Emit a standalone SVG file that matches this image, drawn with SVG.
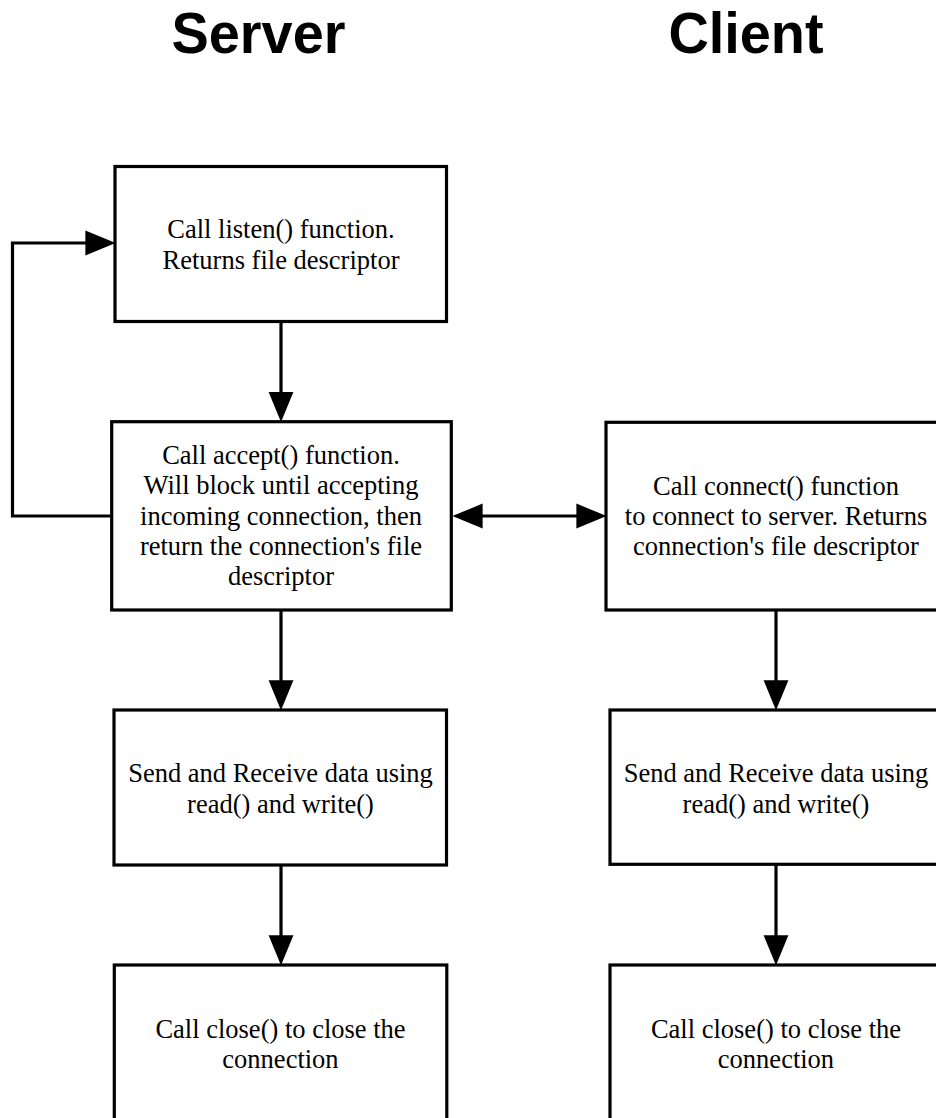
<svg xmlns="http://www.w3.org/2000/svg" width="936" height="1118" viewBox="0 0 936 1118">
  <style>
    .box { fill: #ffffff; stroke: #000000; stroke-width: 3.2; }
    .label { font-family: "Liberation Serif", "Times New Roman", serif; font-size: 26.5px; fill: #000000; text-anchor: middle; }
    .title { font-family: "Liberation Sans", Arial, sans-serif; font-size: 57px; font-weight: bold; fill: #000000; text-anchor: middle; }
    .conn { fill: none; stroke: #000000; stroke-width: 3.2; }
  </style>
  <defs>
    <marker id="arrow" markerUnits="userSpaceOnUse" markerWidth="30" markerHeight="26" viewBox="0 0 29 24" refX="19" refY="12" orient="auto-start-reverse">
      <path d="M0,0 L29,12 L0,24 Z" fill="#000000"/>
    </marker>
  </defs>

  <rect x="0" y="0" width="936" height="1118" fill="#ffffff"/>

  <!-- column headings -->
  <text class="title" transform="translate(258.5,53) scale(0.98,1)">Server</text>
  <text class="title" transform="translate(746,53) scale(0.98,1)">Client</text>

  <!-- server side -->
  <g id="server-listen">
    <rect class="box" x="115" y="166.5" width="331.5" height="155"/>
    <text class="label" x="281" y="238">Call listen() function.</text>
    <text class="label" x="281" y="268.5">Returns file descriptor</text>
  </g>
  <g id="server-accept">
    <rect class="box" x="111.7" y="421.7" width="339.6" height="188.3"/>
    <text class="label" x="281" y="464">Call accept() function.</text>
    <text class="label" x="281" y="494">Will block until accepting</text>
    <text class="label" x="281" y="524.5">incoming connection, then</text>
    <text class="label" x="281" y="555">return the connection's file</text>
    <text class="label" x="281" y="585">descriptor</text>
  </g>
  <g id="server-io">
    <rect class="box" x="114" y="710" width="332.5" height="155"/>
    <text class="label" x="280.5" y="782">Send and Receive data using</text>
    <text class="label" x="280.5" y="812.5">read() and write()</text>
  </g>
  <g id="server-close">
    <rect class="box" x="114.3" y="965" width="332.5" height="156"/>
    <text class="label" x="280.5" y="1038">Call close() to close the</text>
    <text class="label" x="280.5" y="1068">connection</text>
  </g>

  <!-- client side -->
  <g id="client-connect">
    <rect class="box" x="606" y="422.3" width="339.6" height="187.7"/>
    <text class="label" x="776" y="495">Call connect() function</text>
    <text class="label" x="776" y="525">to connect to server. Returns</text>
    <text class="label" x="776" y="555">connection's file descriptor</text>
  </g>
  <g id="client-io">
    <rect class="box" x="610" y="710" width="332.5" height="154.3"/>
    <text class="label" x="776" y="782">Send and Receive data using</text>
    <text class="label" x="776" y="812.5">read() and write()</text>
  </g>
  <g id="client-close">
    <rect class="box" x="610" y="965" width="332.5" height="156"/>
    <text class="label" x="776" y="1038">Call close() to close the</text>
    <text class="label" x="776" y="1068">connection</text>
  </g>

  <!-- connectors -->
  <g id="connectors">
    <line class="conn" x1="281" y1="321.5" x2="281" y2="411.7" marker-end="url(#arrow)"/>
    <line class="conn" x1="281" y1="610" x2="281" y2="700" marker-end="url(#arrow)"/>
    <line class="conn" x1="281" y1="865" x2="281" y2="955" marker-end="url(#arrow)"/>
    <line class="conn" x1="776" y1="610" x2="776" y2="700" marker-end="url(#arrow)"/>
    <line class="conn" x1="776" y1="864.3" x2="776" y2="955" marker-end="url(#arrow)"/>
    <path class="conn" d="M110,516 H12.5 V243 H105" marker-end="url(#arrow)"/>
    <line class="conn" x1="463" y1="516" x2="596" y2="516" marker-start="url(#arrow)" marker-end="url(#arrow)"/>
  </g>
</svg>
